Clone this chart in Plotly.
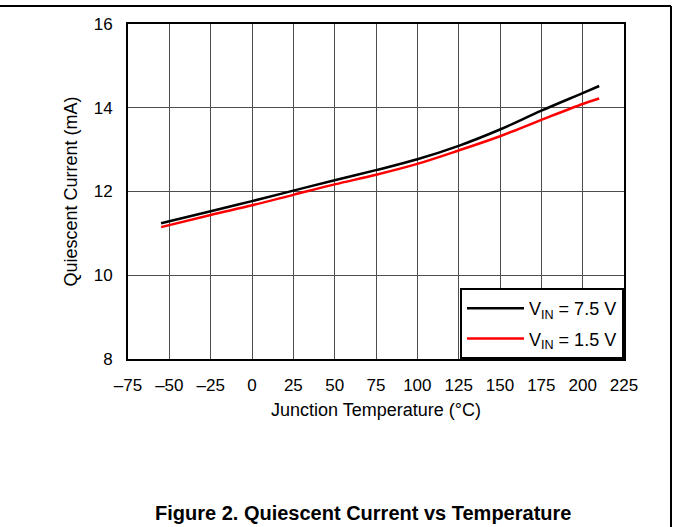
import plotly.graph_objects as go

temps = [-55, -25, 0, 25, 50, 75, 100, 125, 150, 175, 200, 210]
iq_75 = [11.24, 11.53, 11.77, 12.02, 12.27, 12.51, 12.77, 13.09, 13.48, 13.93, 14.35, 14.52]
iq_15 = [11.15, 11.44, 11.67, 11.92, 12.17, 12.40, 12.66, 12.98, 13.32, 13.71, 14.09, 14.22]

xticks = [-75, -50, -25, 0, 25, 50, 75, 100, 125, 150, 175, 200, 225]
xticktext = ["–75", "–50", "–25", "0", "25", "50", "75", "100", "125", "150", "175", "200", "225"]
yticks = [8, 10, 12, 14, 16]

FONT = "Liberation Sans, Arial, sans-serif"

fig = go.Figure()
fig.add_trace(go.Scatter(x=temps, y=iq_75, mode="lines", name="V<sub>IN</sub> = 7.5 V",
                         legendgroup="a",
                         line=dict(color="black", width=2.5, shape="spline")))
fig.add_trace(go.Scatter(x=temps, y=iq_15, mode="lines", name="V<sub>IN</sub> = 1.5 V",
                         legendgroup="b",
                         line=dict(color="#ff0000", width=2.5, shape="spline")))

L, R, T, B = 128, 49, 24, 168
W, H = 673, 527
pw, ph = W - L - R, H - T - B

def px(xp):
    return (xp - L) / pw

def py(yp):
    return (H - B - yp) / ph

GRID = "#4d4d4d"

fig.update_layout(
    width=W, height=H,
    margin=dict(l=L, r=R, t=T, b=B),
    paper_bgcolor="white", plot_bgcolor="white",
    font=dict(family=FONT, size=17, color="black"),
    showlegend=True,
    legend=dict(x=1, y=0, xanchor="right", yanchor="bottom",
                bgcolor="white", bordercolor="black", borderwidth=2,
                font=dict(size=18, family=FONT), itemwidth=57, tracegroupgap=4),
    xaxis=dict(range=[-75, 225], tickvals=xticks, ticktext=xticktext,
               tickfont=dict(size=17, family=FONT),
               showgrid=True, gridcolor=GRID, gridwidth=1,
               showline=True, linecolor="black", linewidth=2, mirror=True,
               ticks="", ticklabelstandoff=10, zeroline=False,
               title=dict(text="Junction Temperature (°C)", standoff=9,
                          font=dict(size=18, family=FONT))),
    yaxis=dict(range=[8, 16], tickvals=yticks,
               tickfont=dict(size=17, family=FONT),
               showgrid=True, gridcolor=GRID, gridwidth=1,
               showline=True, linecolor="black", linewidth=2, mirror=True,
               ticks="", ticklabelstandoff=10, zeroline=False,
               title=dict(text="Quiescent Current (mA)", standoff=11,
                          font=dict(size=18, family=FONT))),
    shapes=[
        dict(type="line", xref="paper", yref="paper", x0=px(0), x1=px(671), y0=py(6), y1=py(6),
             line=dict(color="black", width=2)),
        dict(type="line", xref="paper", yref="paper", x0=px(671), x1=px(671), y0=py(6), y1=py(527),
             line=dict(color="black", width=2)),
    ],
    annotations=[
        dict(text="<b>Figure 2. Quiescent Current vs Temperature</b>", xref="paper", yref="paper",
             x=px(363), y=py(500), xanchor="center", yanchor="top", showarrow=False,
             font=dict(size=20, family=FONT)),
    ],
)

fig.write_html("out.html")
